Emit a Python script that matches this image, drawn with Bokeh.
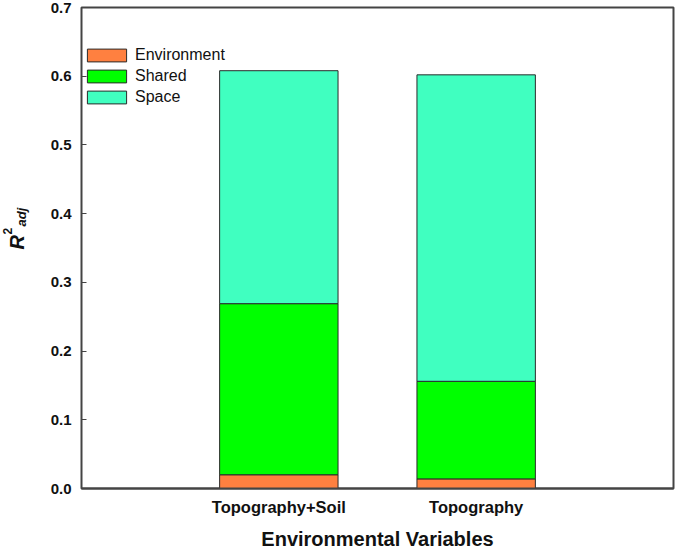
import math
from bokeh.plotting import figure
from bokeh.models import (ColumnDataSource, FactorRange, Range1d, FixedTicker,
                          NumeralTickFormatter, Label)
from bokeh.embed import file_html
from bokeh.resources import INLINE

# ---- data ----
categories = ["Topography+Soil", "Topography"]
environment = [0.020, 0.014]
shared = [0.249, 0.142]
space = [0.339, 0.446]
series_names = ["Environment", "Shared", "Space"]
series_colors = ["#FF8040", "#00FF00", "#40FFC0"]
y_ticks = [0.0, 0.1, 0.2, 0.3, 0.4, 0.5, 0.6, 0.7]
x_title = "Environmental Variables"

source = ColumnDataSource(dict(cats=categories, Environment=environment,
                               Shared=shared, Space=space))

FONT = "Liberation Sans"
AX = "#444444"
TXT = "#111111"

p = figure(width=675, height=552, output_backend="svg", toolbar_location=None,
           x_range=FactorRange(factors=categories, range_padding=0.5,
                               range_padding_units="absolute"),
           y_range=Range1d(0, 0.7),
           min_border_left=81, min_border_right=2, min_border_top=7,
           min_border_bottom=63)

p.vbar_stack(series_names, x="cats", width=0.6, source=source,
             color=series_colors, line_color="#2a2a2a", line_width=1,
             legend_label=series_names)

p.xgrid.visible = False
p.ygrid.visible = False
p.outline_line_color = AX
p.outline_line_width = 2
p.background_fill_color = "white"
p.border_fill_color = "white"

# y axis (ticks only)
p.yaxis.ticker = FixedTicker(ticks=y_ticks)
p.yaxis.formatter = NumeralTickFormatter(format="0.0")
p.yaxis.major_tick_in = 5
p.yaxis.major_tick_out = 0
p.yaxis.minor_tick_line_color = None
p.yaxis.axis_line_color = None
p.yaxis.major_tick_line_color = AX
p.yaxis.major_label_text_font = FONT
p.yaxis.major_label_text_font_style = "bold"
p.yaxis.major_label_text_font_size = "15px"
p.yaxis.major_label_text_color = TXT
p.yaxis.major_label_standoff = 10

# y axis title R^2_adj: rotated labels in the left side panel
ang = math.pi / 2
for txt, sx, sy, size, style in [("R", -9, 239, "20px", "bold italic"),
                                  ("2", -9.3, 254, "12px", "bold"),
                                  ("adj", 20, 262, "13px", "bold italic")]:
    p.add_layout(Label(x=sx, y=sy, x_units="screen", y_units="screen",
                       text=txt, angle=ang, text_font=FONT,
                       text_font_style=style, text_font_size=size,
                       text_color=TXT, text_align="left",
                       text_baseline="alphabetic"), "left")

# x axis
p.xaxis.major_tick_line_color = None
p.xaxis.minor_tick_line_color = None
p.xaxis.axis_line_color = AX
p.xaxis.axis_line_width = 2
p.xaxis.major_label_text_font = FONT
p.xaxis.major_label_text_font_style = "bold"
p.xaxis.major_label_text_font_size = "16.5px"
p.xaxis.major_label_text_color = TXT
p.xaxis.major_label_standoff = 3
p.xaxis.axis_label = x_title
p.xaxis.axis_label_text_font = FONT
p.xaxis.axis_label_text_font_style = "bold"
p.xaxis.axis_label_text_font_size = "20px"
p.xaxis.axis_label_text_color = TXT
p.xaxis.axis_label_text_line_height = 1.0
p.xaxis.axis_label_standoff = 9

# legend
lg = p.legend[0]
lg.location = (1, 381)
lg.padding = 0
lg.margin = 0
lg.spacing = 1
lg.border_line_color = None
lg.background_fill_alpha = 0
lg.glyph_width = 49
lg.glyph_height = 16
lg.label_height = 20
lg.label_standoff = 4
lg.label_text_font = FONT
lg.label_text_font_size = "16px"
lg.label_text_color = TXT

open("out.html", "w").write(file_html(p, INLINE))
